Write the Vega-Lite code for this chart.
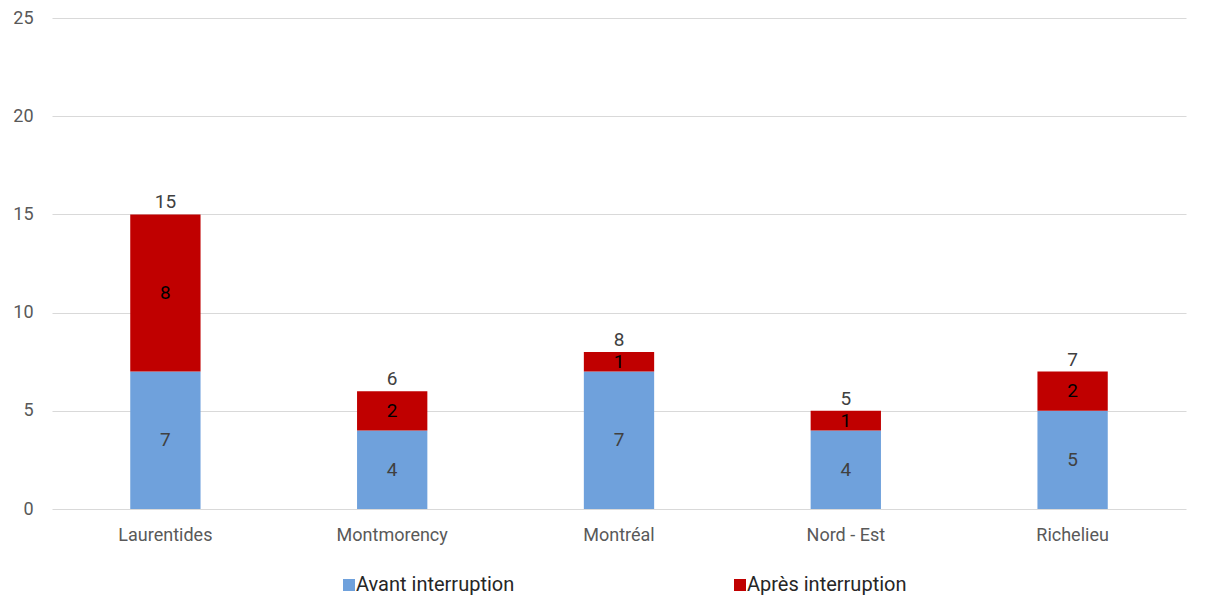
{
  "$schema": "https://vega.github.io/schema/vega-lite/v6.json",
  "autosize": {"type": "none"},
  "padding": {"left": 52, "top": 18, "right": 32, "bottom": 101},
  "width": 1134,
  "height": 491,
  "background": "white",
  "config": {
    "view": {"stroke": null},
    "font": "Roboto",
    "axis": {"labelFont": "Roboto", "labelFontSize": 18, "labelColor": "#595959", "gridColor": "#d9d9d9", "gridWidth": 1, "ticks": false, "domain": false, "title": null}
  },
  "data": {
    "values": [
      {"region": "Laurentides", "serie": "Avant interruption", "n": 7},
      {"region": "Laurentides", "serie": "Après interruption", "n": 8},
      {"region": "Montmorency", "serie": "Avant interruption", "n": 4},
      {"region": "Montmorency", "serie": "Après interruption", "n": 2},
      {"region": "Montréal", "serie": "Avant interruption", "n": 7},
      {"region": "Montréal", "serie": "Après interruption", "n": 1},
      {"region": "Nord - Est", "serie": "Avant interruption", "n": 4},
      {"region": "Nord - Est", "serie": "Après interruption", "n": 1},
      {"region": "Richelieu", "serie": "Avant interruption", "n": 5},
      {"region": "Richelieu", "serie": "Après interruption", "n": 2}
    ]
  },
  "encoding": {
    "x": {
      "field": "region", "type": "nominal", "sort": null,
      "scale": {"paddingInner": 0.69, "paddingOuter": 0.345},
      "axis": {"labelAngle": 0, "labelPadding": 17, "grid": false}
    }
  },
  "layer": [
    {
      "transform": [
        {"stack": "n", "groupby": ["region"], "sort": [{"field": "serie", "order": "descending"}], "as": ["y0", "y1"]},
        {"calculate": "(datum.y0 + datum.y1) / 2", "as": "mid"}
      ],
      "layer": [
        {
          "mark": {"type": "bar"},
          "encoding": {
            "y": {"field": "y0", "type": "quantitative", "stack": null, "scale": {"domain": [0, 25], "nice": false}, "axis": {"values": [0, 5, 10, 15, 20, 25], "grid": true, "labelPadding": 19}},
            "y2": {"field": "y1"},
            "color": {
              "field": "serie", "type": "nominal",
              "scale": {"domain": ["Avant interruption", "Après interruption"], "range": ["#6fa1dc", "#c00000"]},
              "legend": {
                "title": null, "orient": "none", "direction": "horizontal",
                "legendX": 287, "legendY": 557,
                "symbolType": "square", "symbolSize": 144, "symbolStrokeWidth": 0,
                "labelFont": "Roboto", "labelFontSize": 20, "labelColor": "#262626",
                "labelOffset": -3, "columnPadding": 215
              }
            }
          }
        },
        {
          "mark": {"type": "text", "fontSize": 19, "baseline": "middle"},
          "encoding": {
            "y": {"field": "mid", "type": "quantitative", "stack": null},
            "text": {"field": "n", "type": "quantitative"},
            "color": {
              "condition": {"test": "datum.serie === 'Après interruption'", "value": "#000000"},
              "value": "#404040"
            }
          }
        }
      ]
    },
    {
      "transform": [{"aggregate": [{"op": "sum", "field": "n", "as": "total"}], "groupby": ["region"]}],
      "mark": {"type": "text", "fontSize": 19, "baseline": "alphabetic", "dy": -6, "color": "#404040"},
      "encoding": {
        "y": {"field": "total", "type": "quantitative", "stack": null},
        "text": {"field": "total", "type": "quantitative"}
      }
    }
  ]
}
